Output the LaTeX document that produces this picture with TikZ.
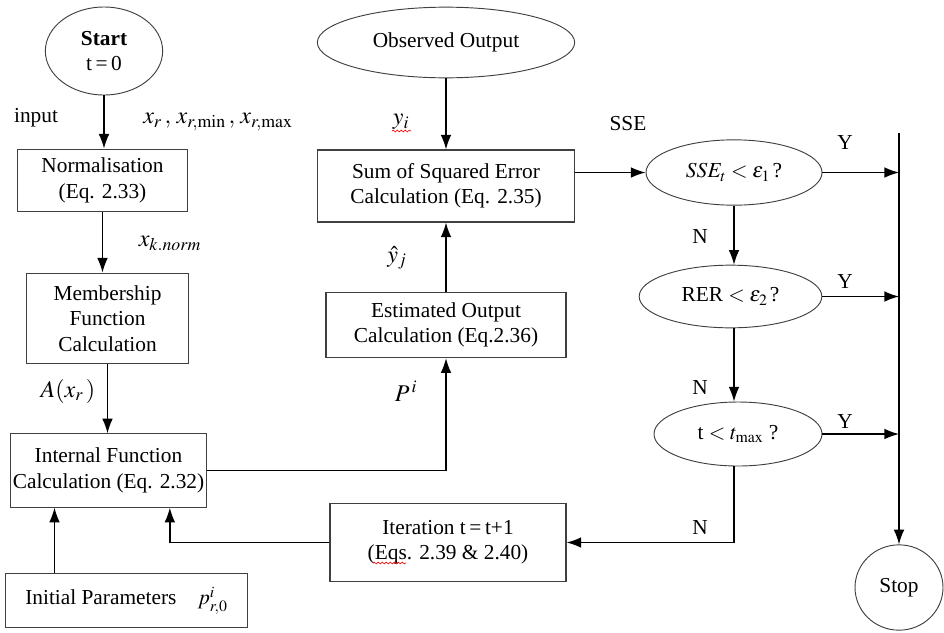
\documentclass[tikz,border=0pt]{standalone}
\usepackage{mathptmx}
\usepackage{fontspec}
\setmainfont{Liberation Serif}
\usetikzlibrary{arrows.meta,shapes.geometric,decorations.pathmorphing}

\begin{document}
\begin{tikzpicture}[x=.75pt, y=-.75pt, font=\fontsize{16}{19}\selectfont,
		box/.style={draw=black!75, line width=.8pt, align=center, inner sep=2pt},
		oval/.style={draw=black!75, line width=.7pt, ellipse, align=center, inner sep=0pt},
		arr/.style={line width=1pt, -{Latex[length=11pt,width=8pt]}},
		lbl/.style={inner sep=1pt},
		mlbl/.style={inner sep=1pt, font=\fontsize{18}{21}\selectfont},
		typo/.style={red, line width=.5pt, decorate, decoration={snake, amplitude=.7pt, segment length=3pt}}]
				\useasboundingbox (0,0) rectangle (944,632);
				% left column
				\node[oval, minimum width=88pt, minimum height=66pt] (start) at (104,51) {\textbf{Start}\\t\,=\,0};
				\node[box, minimum width=128pt, minimum height=47pt] (norm) at (102.5,180.5) {Normalisation\\(Eq. 2.33)};
				\node[box, minimum width=121pt, minimum height=68pt] (memb) at (107.5,318.5) {Membership\\Function\\Calculation};
				\node[box, minimum width=143pt, minimum height=55pt] (intf) at (108.5,470.5) {Internal Function\\Calculation (Eq. 2.32)};
				\node[box, minimum width=182pt, minimum height=41pt] (init) at (126.5,600.5) {Initial Parameters\quad $p^{i}_{r,0}$};
				% middle column
				\node[oval, minimum width=193pt, minimum height=53pt] (obs) at (446,42.5) {Observed Output};
				\node[box, minimum width=193pt, minimum height=54pt] (sse) at (446,186) {Sum of Squared Error\\Calculation (Eq. 2.35)};
				\node[box, minimum width=180pt, minimum height=49pt] (est) at (446,325) {Estimated Output\\Calculation (Eq.2.36)};
				\node[box, minimum width=177pt, minimum height=58pt] (iter) at (448,542.5) {Iteration t\,=\,t+1\\(Eqs. 2.39 \& 2.40)};
				% right column
				\node[oval, minimum width=132pt, minimum height=49pt] (q1) at (734,172.5) {$SSE_t < \varepsilon_1\,$?};
				\node[oval, minimum width=137pt, minimum height=47pt] (q2) at (730.5,296.5) {RER $< \varepsilon_2\,$?};
				\node[oval, minimum width=126pt, minimum height=48pt] (q3) at (738,434) {t $< t_{\max}$ ?};
				\node[oval, minimum width=66pt, minimum height=64pt] (stop) at (899,587.5) {Stop};
				\coordinate (bartop) at (899,133);

				% labels
				\node[lbl] (linput) at (36,118) {input};
				\node[mlbl] (lx) at (218,122) {$x_r\,,\,x_{r,\min}\,,\,x_{r,\max}$};
				\node[mlbl] (lxk) at (170,243) {$x_{k.norm}$};
				\node[mlbl] (la) at (68,391) {$A(x_r\,)$};
				\node[mlbl] (lp) at (406,391) {$P^{\,i}$};
				\node[mlbl] (lyh) at (397,258) {$\hat{y}_j$};
				\node[mlbl] (ly) at (401,122) {$y_i$};
				\node[lbl] (lsse) at (628,124) {SSE};
				\node[lbl] (ly1) at (845,143) {Y};
				\node[lbl] (ly2) at (845,282) {Y};
				\node[lbl] (ly3) at (845,422) {Y};
				\node[lbl] (ln1) at (700,237) {N};
				\node[lbl] (ln2) at (700,388) {N};
				\node[lbl] (ln3) at (700,528) {N};
				\draw[typo] (392,131) -- (411,131);
				\draw[typo] (373,563) -- (406,563);

				% connectors
				\draw[arr] (start) -- (start |- norm.north);
				\draw[arr] (norm) -- (norm |- memb.north);
				\draw[arr] (memb) -- (memb |- intf.north);
				\coordinate (initup) at ([xshift=-54pt]init.north);
				\draw[arr] (initup) -- (initup |- intf.south);
				\draw[arr] (intf.east) -| (est.south);
				\draw[arr] (est) -- (sse.south);
				\draw[arr] (obs) -- (sse.north);
				\draw[arr] (q1.west -| sse.east) -- (q1.west);
				\draw[arr] (q1) -- (q1.south |- q2.north);
				\draw[arr] (q2.south -| q1.south) -- (q3.north -| q1.south);
				\draw[arr] (q3.south -| q1.south) |- (iter.east);
				\draw[arr] (iter.west) -| ([xshift=46pt]intf.south);
				\draw[arr] (q1.east) -- (q1.east -| bartop);
				\draw[arr] (q2.east) -- (q2.east -| bartop);
				\draw[arr] (q3.east) -- (q3.east -| bartop);
				\draw[arr] (bartop) -- (stop.north);

\end{tikzpicture}
\end{document}
